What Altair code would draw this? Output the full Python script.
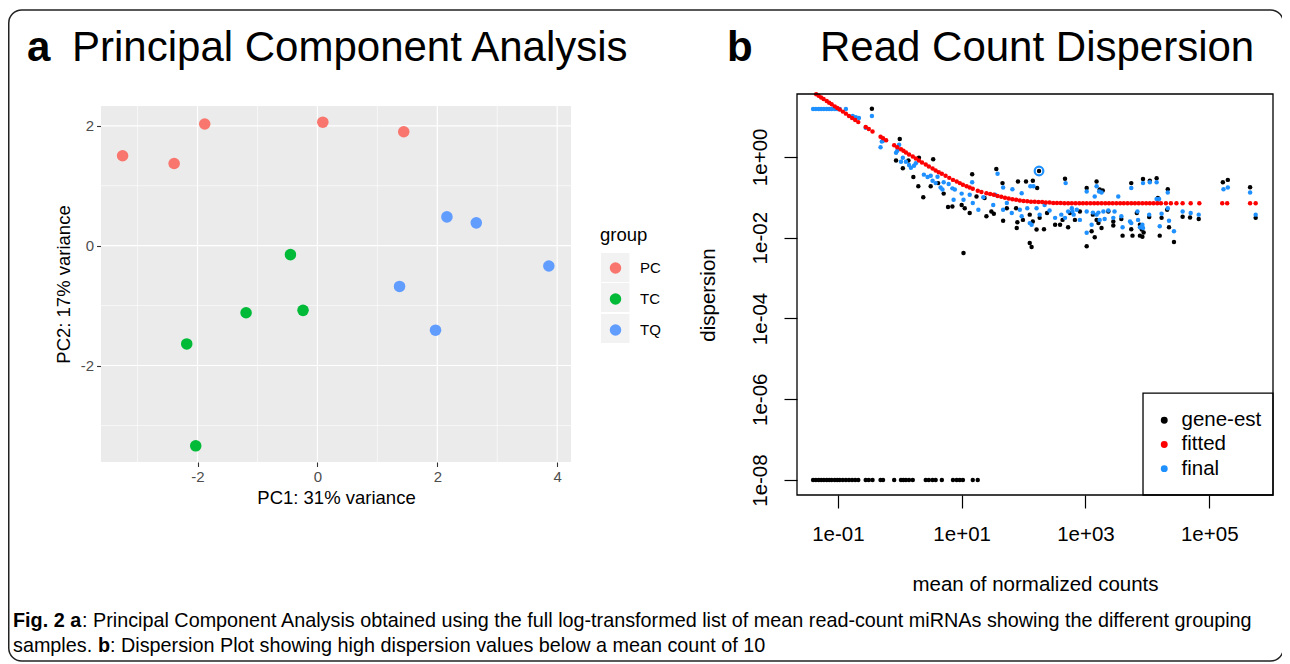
import altair as alt
import pandas as pd

FONT = "Liberation Sans"
W, H = 1274, 656

# ---------------- Panel a : PCA ----------------
pca_group = ["PC", "PC", "PC", "PC", "PC", "TC", "TC", "TC", "TC", "TC", "TQ", "TQ", "TQ", "TQ", "TQ"]
pc1 = [-3.25, -2.39, -1.88, 0.09, 1.44, -0.45, -1.19, -0.24, -2.18, -2.03, 2.16, 2.65, 3.86, 1.37, 1.97]
pc2 = [1.50, 1.37, 2.03, 2.06, 1.90, -0.15, -1.12, -1.08, -1.64, -3.34, 0.48, 0.38, -0.34, -0.68, -1.41]
group_names = ["PC", "TC", "TQ"]
group_colors = ["#F8766D", "#00BA38", "#619CFF"]
pca_x_major = [-2, 0, 2, 4]
pca_x_minor = [-3, -1, 1, 3]
pca_y_major = [-2, 0, 2]
pca_y_minor = [-3, -1, 1]
A_X = [-3.61, 4.23]
A_Y = [-3.61, 2.33]

# ---------------- Panel b : dispersion (log10 values) ----------------
gene_est_mean_log10 = [
    -1.40, -1.355, -1.31, -1.27, -1.226, -1.18, -1.14, -1.10, -1.05, -1.01, -0.97, -0.92, -0.87,
    -0.82, -0.77, -0.72, -0.67, -0.55, -0.50, -0.44, -0.31, -0.27, -0.09, 0.02, 0.06, 0.10, 0.15,
    0.21, 0.42, 0.47, 0.53, 0.58, 0.68, 0.86, 0.92, 0.97, 1.02, 1.18, 1.26,
    -0.45, 0.00, -0.06, 0.05, 0.14, 0.31, 0.22, 0.30, 0.38, 0.54, 0.50, 0.62, 0.71, 0.78, 0.85,
    1.56, 1.17, 1.66, 1.91, 2.04, 2.15, 2.22, 2.67, 3.02, 3.18, 1.00, 1.05, 1.13, 1.24, 1.37,
    1.40, 1.48, 1.52, 1.67, 1.73, 1.88, 1.90, 1.89, 1.99, 2.10, 2.15, 2.21, 2.26, 2.33, 2.38,
    2.51, 2.59, 2.63, 2.72, 2.75, 2.83, 2.91, 3.02, 3.10, 3.15, 3.18, 2.10, 2.13, 1.03, 2.25,
    3.23, 3.28, 3.74, 3.93, 4.04, 4.15, 4.33, 5.22, 5.30, 5.66, 4.69, 4.83, 5.75, 4.17, 3.12,
    3.21, 3.26, 3.37, 3.45, 3.45, 3.58, 3.60, 3.74, 3.76, 3.88, 3.91, 3.88, 3.92, 3.94, 4.03,
    4.20, 4.23, 4.35, 4.43, 4.32, 3.83, 4.57,
]
gene_est_disp_log10 = [
    -8, -8, -8, -8, -8, -8, -8, -8, -8, -8, -8, -8, -8,
    -8, -8, -8, -8, -8, -8, -8, -8, -8, -8, -8, -8, -8, -8,
    -8, -8, -8, -8, -8, -8, -8, -8, -8, -8, -8, -8,
    1.19, 0.44, -0.09, -0.28, -0.09, -0.02, -0.50, -0.73, -1.00, -0.06, -0.73, -0.65, -0.91, -1.24, -1.23,
    -0.30, -0.43, -0.65, -0.61, -0.61, -0.59, -0.77, -0.54, -0.77, -0.61, -1.19, -1.27, -1.39, -0.98, -1.02,
    -1.47, -1.35, -1.41, -1.58, -1.27, -1.27, -1.62, -1.76, -1.56, -1.43, -1.60, -1.80, -1.51, -1.79, -1.39,
    -1.68, -1.68, -1.56, -1.74, -1.39, -1.56, -1.35, -2.21, -1.84, -1.99, -1.56, -2.13, -2.23, -2.38, -0.35,
    -0.81, -0.83, -0.65, -0.55, -0.59, -0.53, -0.80, -0.63, -0.57, -0.75, -1.50, -1.54, -1.51, -1.02, -1.43,
    -1.64, -1.76, -1.35, -1.60, -1.70, -1.54, -1.95, -1.79, -1.95, -1.68, -1.80, -1.95, -1.98, -1.87, -1.49,
    -1.95, -1.51, -1.74, -2.11, -1.31, -1.39, -1.48,
]
fitted_mean_log10 = [
    -1.35, -1.31, -1.27, -1.23, -1.18, -1.14, -1.10, -1.05, -1.01, -0.97, -0.92, -0.87, -0.82,
    -0.77, -0.72, -0.67, -0.55, -0.50, -0.44, -0.31, -0.27, -0.22, -0.09, -0.04, 0.02, 0.06,
    0.10, 0.15, 0.21, 0.26, 0.31, 0.36, 0.42, 0.47, 0.53, 0.58, 0.63, 0.68, 0.74, 0.80, 0.86,
    0.92, 0.97, 1.02, 1.08, 1.13, 1.18, 1.26, 1.32, 1.40, 1.46, 1.52, 1.58, 1.64, 1.70, 1.76,
    1.82, 1.88, 1.94, 2.00, 2.06, 2.12, 2.18, 2.24, 2.30, 2.36, 2.42, 2.48, 2.54, 2.60, 2.66,
    2.72, 2.78, 2.84, 2.90, 2.96, 3.02, 3.08, 3.14, 3.20, 3.26, 3.32, 3.38, 3.44, 3.50, 3.56,
    3.62, 3.68, 3.74, 3.80, 3.86, 3.92, 3.98, 4.04, 4.10, 4.16, 4.22, 4.30, 4.38, 4.47, 4.57,
    4.70, 4.84, 5.21, 5.29, 5.66, 5.75,
]
fitted_disp_log10 = [
    1.55, 1.51, 1.47, 1.43, 1.38, 1.34, 1.30, 1.25, 1.21, 1.17, 1.12, 1.07, 1.01,
    0.96, 0.91, 0.86, 0.74, 0.69, 0.63, 0.50, 0.46, 0.41, 0.29, 0.24, 0.19, 0.15,
    0.11, 0.06, 0.01, -0.04, -0.09, -0.14, -0.19, -0.24, -0.29, -0.34, -0.38, -0.42, -0.47, -0.52, -0.57,
    -0.61, -0.65, -0.69, -0.73, -0.76, -0.79, -0.84, -0.87, -0.90, -0.92, -0.94, -0.97, -0.99, -1.01, -1.03,
    -1.05, -1.06, -1.08, -1.09, -1.10, -1.11, -1.11, -1.12, -1.12, -1.13, -1.13, -1.14, -1.14, -1.14, -1.15,
    -1.15, -1.15, -1.15, -1.15, -1.15, -1.15, -1.15, -1.15, -1.15, -1.15, -1.15, -1.15, -1.15, -1.15, -1.15,
    -1.15, -1.15, -1.15, -1.15, -1.15, -1.15, -1.15, -1.15, -1.15, -1.15, -1.15, -1.15, -1.15, -1.15, -1.15,
    -1.15, -1.15, -1.15, -1.15, -1.15, -1.15,
]
final_mean_log10 = [
    -1.40, -1.355, -1.31, -1.27, -1.226, -1.18, -1.14, -1.10, -1.05, -1.01, -0.97, -0.87,
    -0.76, -0.71, -0.66, -0.55, -0.45, -0.29, -0.27, -0.31, -0.06, -0.04, -0.01, 0.02, 0.05,
    0.10, 0.15, 0.18, 0.23, 0.26, 0.39, 0.45, 0.50, 0.53, 0.58, 0.66, 0.69, 0.61, 0.79, 0.85, 0.87,
    1.58, 1.17, 1.67, 1.82, 1.97, 2.11, 2.16, 2.68, 3.02, 3.18, 0.71, 0.89, 1.00, 1.03, 1.13,
    1.18, 1.27, 1.35, 1.51, 1.54, 1.67, 1.73, 1.81, 1.94, 1.97, 2.06, 2.10, 2.13, 2.21, 2.26,
    2.34, 2.42, 2.51, 2.61, 2.67, 2.72, 2.78, 2.79, 2.81, 2.86, 2.91, 3.02, 3.02, 3.10, 3.18,
    3.22, 3.26, 3.15, 3.74, 3.93, 4.04, 4.15, 4.33, 5.23, 5.30, 5.66, 4.17, 3.12, 3.21, 3.29,
    3.37, 3.23, 3.31, 3.47, 3.53, 3.45, 3.58, 3.60, 3.72, 3.74, 3.84, 3.85, 3.88, 3.92, 3.93,
    4.03, 4.20, 4.23, 4.33, 4.35, 4.43, 4.57, 4.70, 4.83, 5.75, 4.15, 4.19,
]
final_disp_log10 = [
    1.185, 1.185, 1.185, 1.185, 1.185, 1.185, 1.185, 1.185, 1.185, 1.185, 1.185, 1.185,
    1.01, 0.98, 0.96, 0.72, 1.01, 0.38, 0.40, 0.24, 0.10, 0.15, 0.30, -0.12, -0.02,
    -0.12, -0.20, -0.27, -0.22, -0.16, -0.44, -0.50, -0.47, -0.59, -0.65, -0.76, -0.81, -0.49, -0.67, -0.78, -1.06,
    -0.42, -0.63, -0.76, -0.80, -0.90, -0.73, -0.73, -0.65, -0.86, -0.73, -0.63, -0.81, -0.91, -1.06, -0.94,
    -1.14, -1.31, -1.00, -1.19, -0.94, -1.31, -1.14, -1.39, -1.31, -1.47, -1.27, -1.64, -1.68, -1.27, -1.43,
    -1.19, -1.33, -1.51, -1.43, -1.51, -1.35, -1.27, -1.35, -1.43, -1.31, -1.56, -1.35, -1.88, -1.68, -1.43,
    -0.86, -0.88, -0.98, -0.77, -0.65, -0.63, -0.63, -0.88, -0.80, -0.76, -0.88, -1.06, -1.38, -1.38, -1.35,
    -1.33, -1.56, -1.54, -1.35, -0.98, -1.51, -1.47, -1.74, -1.60, -1.64, -1.35, -1.56, -1.74, -1.68, -1.76,
    -1.43, -1.72, -1.41, -1.27, -1.58, -1.84, -1.35, -1.39, -1.43, -1.43, -1.04, -1.04,
]
outlier_mean_log10 = [2.25]
outlier_disp_log10 = [-0.35]
series_names = ["gene-est", "fitted", "final"]
series_colors = ["#000000", "#FF0000", "#1E90FF"]
B_X = [-1.66, 6.03]
B_Y = [-8.37, 1.556]
b_x_ticks = [-1, 1, 3, 5]
b_y_ticks = [-8, -6, -4, -2, 0]
legend_box_left = 3.93
legend_box_top = -5.85

# ---------------- scales / axes ----------------
sx_a = alt.Scale(domain=A_X, range=[93, 563], nice=False, zero=False)
sy_a = alt.Scale(domain=A_Y, range=[454, 98], nice=False, zero=False)
ax_a_x = alt.Axis(orient="bottom", offset=454 - H, values=pca_x_major, grid=False, domain=False,
                  tickColor="#333333", tickSize=4.5, tickWidth=1.1, labelColor="#4D4D4D",
                  labelFontSize=15, labelPadding=3, labelFlush=False, labelOverlap=False,
                  labelExpr="datum.value < 0 ? '-' + abs(datum.value) : '' + datum.value",
                  title="PC1: 31% variance", titleFontSize=18.5, titleFontWeight="normal",
                  titleColor="black", titlePadding=4)
ax_a_y = alt.Axis(orient="left", offset=-93, values=pca_y_major, grid=False, domain=False,
                  tickColor="#333333", tickSize=4.5, tickWidth=1.1, labelColor="#4D4D4D",
                  labelFontSize=15, labelPadding=3, labelFlush=False, labelOverlap=False,
                  labelExpr="datum.value < 0 ? '-' + abs(datum.value) : '' + datum.value",
                  title="PC2: 17% variance", titleFontSize=18.5, titleFontWeight="normal",
                  titleColor="black", titlePadding=7)

sx_b = alt.Scale(domain=B_X, range=[789, 1265], nice=False, zero=False)
sy_b = alt.Scale(domain=B_Y, range=[487, 86], nice=False, zero=False)
lab_exp = "datum.value < 0 ? '1e-0' + abs(datum.value) : '1e+0' + datum.value"
ax_b_x = alt.Axis(orient="bottom", offset=487 - H, values=b_x_ticks, grid=False, domain=False,
                  tickColor="black", tickSize=13, tickWidth=1.2, labelColor="black",
                  labelFontSize=20.5, labelPadding=16, labelFlush=False, labelOverlap=False,
                  labelExpr=lab_exp, title="mean of normalized counts", titleFontSize=20.5,
                  titleFontWeight="normal", titleColor="black", titlePadding=30)
ax_b_y = alt.Axis(orient="left", offset=-789, values=b_y_ticks, grid=False, domain=False,
                  tickColor="black", tickSize=13, tickWidth=1.2, labelColor="black",
                  labelFontSize=20.5, labelPadding=18, labelFlush=False, labelOverlap=False,
                  labelAngle=270, labelAlign="center", labelBaseline="alphabetic",
                  labelExpr=lab_exp, title="dispersion", titleFontSize=20.5,
                  titleFontWeight="normal", titleColor="black", titlePadding=32)

# ---------------- panel a layers ----------------
df_pca = pd.DataFrame({"pc1": pc1, "pc2": pc2, "group": pca_group})
df_bg_a = pd.DataFrame({"x1": [A_X[0]], "x2": [A_X[1]], "y1": [A_Y[0]], "y2": [A_Y[1]]})

bg_a = alt.Chart(df_bg_a).mark_rect(color="#EBEBEB").encode(
    x=alt.X("x1:Q", scale=sx_a, axis=ax_a_x), x2="x2:Q",
    y=alt.Y("y1:Q", scale=sy_a, axis=ax_a_y), y2="y2:Q")


def vrules(vals, width):
    d = pd.DataFrame({"v": vals, "y1": A_Y[0], "y2": A_Y[1]})
    return alt.Chart(d).mark_rule(color="white", strokeWidth=width).encode(
        x=alt.X("v:Q", scale=sx_a, axis=ax_a_x),
        y=alt.Y("y1:Q", scale=sy_a, axis=ax_a_y), y2="y2:Q")


def hrules(vals, width):
    d = pd.DataFrame({"v": vals, "x1": A_X[0], "x2": A_X[1]})
    return alt.Chart(d).mark_rule(color="white", strokeWidth=width).encode(
        y=alt.Y("v:Q", scale=sy_a, axis=ax_a_y),
        x=alt.X("x1:Q", scale=sx_a, axis=ax_a_x), x2="x2:Q")


pts_a = alt.Chart(df_pca).mark_circle(size=133, opacity=1).encode(
    x=alt.X("pc1:Q", scale=sx_a, axis=ax_a_x),
    y=alt.Y("pc2:Q", scale=sy_a, axis=ax_a_y),
    color=alt.Color("group:N", scale=alt.Scale(domain=group_names, range=group_colors),
                    legend=alt.Legend(orient="none", legendX=592, legendY=218, title="group",
                                      titleFontSize=18.5, titleFontWeight="normal",
                                      titleColor="black", titlePadding=16, labelFontSize=15,
                                      labelColor="black", symbolSize=133, symbolOffset=8,
                                      labelOffset=17, rowPadding=15, symbolType="circle",
                                      symbolStrokeWidth=0)))

key_layers = []
for top in [245, 275, 306]:
    key_layers.append(
        alt.Chart(pd.DataFrame({"k": [0]})).mark_rect(color="#F2F2F2").encode(
            x=alt.value(593), x2=alt.value(621.5), y=alt.value(top), y2=alt.value(top + 29)))

group_a = alt.layer(bg_a, vrules(pca_x_minor, 0.6), hrules(pca_y_minor, 0.6),
                    vrules(pca_x_major, 1.2), hrules(pca_y_major, 1.2), pts_a)

# ---------------- panel b layers ----------------
color_b = alt.Color("s:N", scale=alt.Scale(domain=series_names, range=series_colors),
                    legend=alt.Legend(orient="none", legendX=1146, legendY=402, title=None,
                                      labelFontSize=20.5, labelColor="black", symbolSize=48,
                                      labelOffset=7, rowPadding=3.2, symbolType="circle",
                                      symbolStrokeWidth=0))


def series(xs, ys, name):
    d = pd.DataFrame({"m": xs, "d": ys, "s": name})
    return alt.Chart(d).mark_circle(size=20, opacity=1).encode(
        x=alt.X("m:Q", scale=sx_b, axis=ax_b_x),
        y=alt.Y("d:Q", scale=sy_b, axis=ax_b_y),
        color=color_b)


ring = alt.Chart(pd.DataFrame({"m": outlier_mean_log10, "d": outlier_disp_log10})).mark_point(
    shape="circle", filled=False, size=75, strokeWidth=2.2, color="#1E90FF", opacity=1).encode(
    x=alt.X("m:Q", scale=sx_b, axis=ax_b_x), y=alt.Y("d:Q", scale=sy_b, axis=ax_b_y))

box_b = alt.Chart(pd.DataFrame({"x1": [B_X[0]], "x2": [B_X[1]], "y1": [B_Y[0]], "y2": [B_Y[1]]})).mark_rect(
    fill="transparent", stroke="black", strokeWidth=1.3).encode(
    x=alt.X("x1:Q", scale=sx_b, axis=ax_b_x), x2="x2:Q",
    y=alt.Y("y1:Q", scale=sy_b, axis=ax_b_y), y2="y2:Q")

legbox_b = alt.Chart(pd.DataFrame({"x1": [legend_box_left], "x2": [B_X[1]], "y1": [B_Y[0]],
                                   "y2": [legend_box_top]})).mark_rect(
    fill="white", stroke="black", strokeWidth=1.3).encode(
    x=alt.X("x1:Q", scale=sx_b, axis=ax_b_x), x2="x2:Q",
    y=alt.Y("y1:Q", scale=sy_b, axis=ax_b_y), y2="y2:Q")

group_b = alt.layer(
    series(gene_est_mean_log10, gene_est_disp_log10, "gene-est"),
    series(final_mean_log10, final_disp_log10, "final"),
    ring,
    series(fitted_mean_log10, fitted_disp_log10, "fitted"),
    legbox_b, box_b)


# ---------------- texts ----------------
def label(text, x, y, size, weight="normal", font=FONT):
    return alt.Chart(pd.DataFrame({"t": [text]})).mark_text(
        align="left", baseline="alphabetic", font=font, fontSize=size, fontWeight=weight,
        color="black").encode(text="t:N", x=alt.value(x), y=alt.value(y))


border = alt.Chart(pd.DataFrame({"k": [0]})).mark_rect(
    fill="transparent", stroke="#222222", strokeWidth=1.5, cornerRadius=13).encode(
    x=alt.value(0.75), x2=alt.value(1275.5), y=alt.value(2), y2=alt.value(653))

CAP = 19.8
texts = [
    label("a", 19, 53, 42, "bold"),
    label("Principal Component Analysis", 64, 53, 42),
    label("b", 719, 53, 42, "bold"),
    label("Read Count Dispersion", 812, 53, 42),
    label("Fig. 2 a", 5, 619, CAP, "bold"),
    label(": Principal Component Analysis obtained using the full log-transformed list of mean read-count miRNAs showing the different grouping", 74, 619, CAP),
    label("samples.", 5, 644, CAP),
    label("b", 90, 644, CAP, "bold"),
    label(": Dispersion Plot showing high dispersion values below a mean count of 10", 102, 644, CAP),
]

chart = alt.layer(border, *key_layers, group_a, group_b, *texts).resolve_scale(
    x="independent", y="independent", color="independent"
).properties(
    width=W, height=H, padding=0, autosize=alt.AutoSizeParams(type="none"), background="white"
).configure_view(strokeWidth=0).configure_axis(
    labelFont=FONT, titleFont=FONT
).configure_legend(labelFont=FONT, titleFont=FONT).configure_text(font=FONT)

chart.save("out.html", embed_options={"renderer": "svg", "actions": False})
